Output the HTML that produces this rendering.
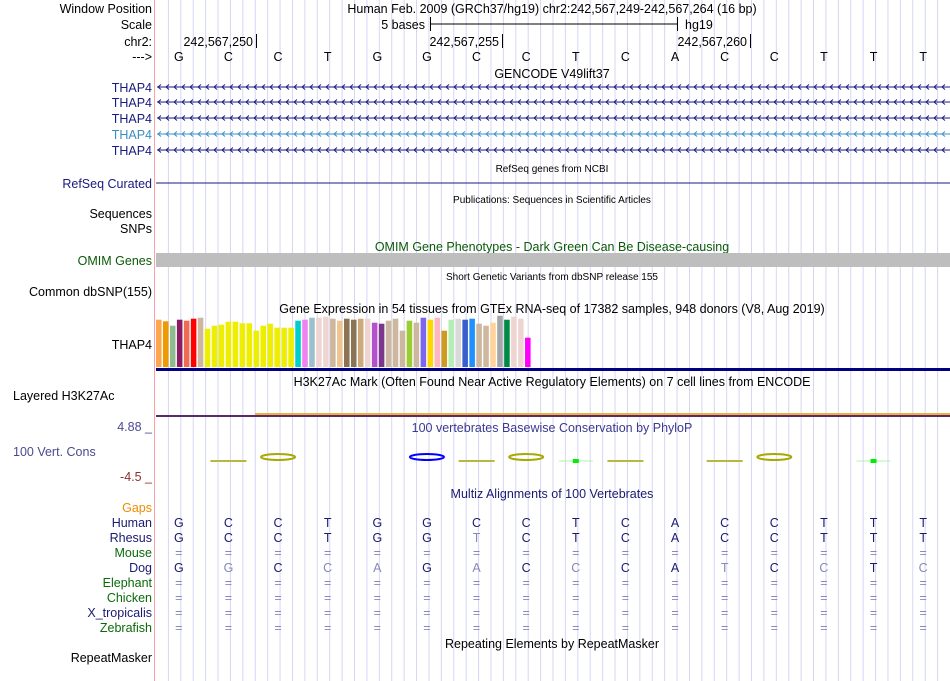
<!DOCTYPE html>
<html><head><meta charset="utf-8"><style>
html,body{margin:0;padding:0;background:#fff;}
svg{display:block;font-family:"Liberation Sans",sans-serif;}
</style></head><body>
<svg id="s" width="950" height="681" viewBox="0 0 950 681" xmlns="http://www.w3.org/2000/svg">
<g id="grid"></g>
<line x1="154.5" y1="0" x2="154.5" y2="681" stroke="#f4a4a4" stroke-width="1"/>
<g font-size="12.5" fill="#000" text-anchor="end">
<text x="152" y="13">Window Position</text>
<text x="152" y="29">Scale</text>
<text x="152" y="46">chr2:</text>
<text x="152" y="61">---&gt;</text>
<text x="152" y="92" fill="#1a1a80">THAP4</text>
<text x="152" y="107" fill="#1a1a80">THAP4</text>
<text x="152" y="123" fill="#1a1a80">THAP4</text>
<text x="152" y="139" fill="#3a8ec6">THAP4</text>
<text x="152" y="155" fill="#1a1a80">THAP4</text>
<text x="152" y="188" fill="#1a1a80">RefSeq Curated</text>
<text x="152" y="218">Sequences</text>
<text x="152" y="233">SNPs</text>
<text x="152" y="265" fill="#0a5a0a">OMIM Genes</text>
<text x="152" y="296">Common dbSNP(155)</text>
<text x="152" y="349">THAP4</text>
<text x="13" y="400" text-anchor="start">Layered H3K27Ac</text>
<text x="152" y="431" fill="#4a4a90">4.88 _</text>
<text x="13" y="456" text-anchor="start" fill="#4a4a90">100 Vert. Cons</text>
<text x="152" y="481" fill="#903030">-4.5 _</text>
<text x="152" y="512" fill="#f08c00">Gaps</text>
<text x="152" y="527" fill="#1a1a70">Human</text>
<text x="152" y="542" fill="#1a1a70">Rhesus</text>
<text x="152" y="557" fill="#0a6a0a">Mouse</text>
<text x="152" y="572" fill="#1a1a70">Dog</text>
<text x="152" y="587" fill="#0a6a0a">Elephant</text>
<text x="152" y="602" fill="#0a6a0a">Chicken</text>
<text x="152" y="617" fill="#1a1a70">X_tropicalis</text>
<text x="152" y="632" fill="#0a6a0a">Zebrafish</text>
<text x="152" y="662">RepeatMasker</text>
</g>
<g font-size="12.5" text-anchor="middle">
<text x="552" y="13">Human Feb. 2009 (GRCh37/hg19)   chr2:242,567,249-242,567,264 (16 bp)</text>
<text x="552" y="78">GENCODE V49lift37</text>
<text x="552" y="251" fill="#0a5a0a">OMIM Gene Phenotypes - Dark Green Can Be Disease-causing</text>
<text x="552" y="313">Gene Expression in 54 tissues from GTEx RNA-seq of 17382 samples, 948 donors (V8, Aug 2019)</text>
<text x="552" y="386">H3K27Ac Mark (Often Found Near Active Regulatory Elements) on 7 cell lines from ENCODE</text>
<text x="552" y="432" fill="#3a3a90">100 vertebrates Basewise Conservation by PhyloP</text>
<text x="552" y="498" fill="#1a1a70">Multiz Alignments of 100 Vertebrates</text>
<text x="552" y="648">Repeating Elements by RepeatMasker</text>
</g>
<g font-size="10" text-anchor="middle">
<text x="552" y="172">RefSeq genes from NCBI</text>
<text x="552" y="203">Publications: Sequences in Scientific Articles</text>
<text x="552" y="280">Short Genetic Variants from dbSNP release 155</text>
</g>
<g>
<text x="425" y="29" font-size="12.5" text-anchor="end">5 bases</text>
<line x1="430" y1="24" x2="677" y2="24" stroke="#000"/>
<line x1="430.5" y1="17" x2="430.5" y2="31" stroke="#000"/>
<line x1="677.5" y1="17" x2="677.5" y2="31" stroke="#000"/>
<text x="685" y="29" font-size="12.5">hg19</text>
</g>
<g font-size="12.5" text-anchor="end">
<text x="253" y="46">242,567,250</text><line x1="256.5" y1="34" x2="256.5" y2="48" stroke="#000"/>
<text x="499" y="46">242,567,255</text><line x1="502.5" y1="34" x2="502.5" y2="48" stroke="#000"/>
<text x="747" y="46">242,567,260</text><line x1="750.5" y1="34" x2="750.5" y2="48" stroke="#000"/>
</g>
<rect x="156" y="253" width="794" height="14" fill="#bebebe"/>
<line x1="156" y1="183" x2="950" y2="183" stroke="#1a1a80"/>
<g id="genes"></g>
<g id="bars"></g>
<rect x="156" y="368" width="794" height="3" fill="#000080"/>
<rect x="255" y="413" width="695" height="2" fill="#f0b040"/>
<rect x="156" y="415" width="794" height="2" fill="#5a2a6a"/>
<g id="cons"></g>
<g id="seq" font-size="12.5" text-anchor="middle"></g>
</svg>
<script>
const bases = ["G","C","C","T","G","G","C","C","T","C","A","C","C","T","T","T"];
const rhesus = ["G","C","C","T","G","G","t","C","T","C","A","C","C","T","T","T"];
const dog = ["G","g","C","c","a","G","a","C","c","C","A","t","C","c","T","c"];
const gtexValues = [47.3,45.7,41.3,47.3,46.3,48.3,49.3,38.3,41.3,42.3,45.3,45.3,43.7,43.7,36.3,41.3,43.3,39.3,39.3,39.3,46.3,47.3,49.3,49.3,50.3,48.3,46.3,48.3,47.3,48.3,48.3,44.3,43.3,46.3,48.3,36.3,46.3,44.3,49.3,47.3,49.3,36.3,47.3,48.3,47.3,48.3,43.3,41.3,44.3,51.3,47.3,50.3,48.3,29.3];
const gtexColors = ["#FFA54F","#EE9A00","#8FBC8F","#8B1C62","#EE6A50","#FF0000","#CDB79E","#EEEE00","#EEEE00","#EEEE00","#EEEE00","#EEEE00","#EEEE00","#EEEE00","#EEEE00","#EEEE00","#EEEE00","#EEEE00","#EEEE00","#EEEE00","#00CDCD","#EE82EE","#9AC0CD","#EED5D2","#EED5D2","#CDB79E","#EEC591","#8B7355","#8B7355","#CDAA7D","#EED5D2","#B452CD","#7A378B","#CDB79E","#CDB79E","#CDB79E","#9ACD32","#CDB79E","#7A67EE","#FFD700","#FFB6C1","#CD9B1D","#B4EEB4","#D9D9D9","#3A5FCD","#1E90FF","#CDB79E","#CDB79E","#FFD39B","#A6A6A6","#008B45","#EED5D2","#EED5D2","#FF00FF"];
const consBase = [1,2,5,6,7,8,9,11,12,14];
const consType = ["flat","ring","ring","flat","ring","dot","flat","flat","ring","dot"];
const consColor = ["#b8b840","#a8a800","#0000ff","#b8b840","#a8a800","#00ee00","#b8b840","#b8b840","#a8a800","#00ee00"];

const NS="http://www.w3.org/2000/svg";
const X0=156, W=794, bw=W/bases.length;
function xBase(i){return X0+bw*i+bw/2-2;}
function mk(t,a,p){const e=document.createElementNS(NS,t);for(const k in a)e.setAttribute(k,a[k]);p.appendChild(e);return e;}
const grid=document.getElementById('grid');
for(let k=1;k<64;k++){const x=X0+k*W/64;
 const l=mk('line',{x1:x,y1:0,x2:x,y2:681,stroke:'#d6d6f4','stroke-width':1},grid);
 
 }
const genes=document.getElementById('genes');
const gy=[87,102,118,134,150], gc=["#1a1a80","#1a1a80","#1a1a80","#3a8ec6","#1a1a80"];
gy.forEach((y,j)=>{const g=mk('g',{stroke:gc[j],fill:'none','stroke-width':1},genes);
 
 
 mk('line',{x1:157,y1:y,x2:950,y2:y},g);
 let d='';for(let x=158;x<950;x+=8){d+=`M${x+3},${y-2.5}L${x},${y}L${x+3},${y+2.5}`;}
 mk('path',{d:d},g);});
const bars=document.getElementById('bars');
const bottom=367, pitch=(532-156)/gtexValues.length;
gtexValues.forEach((v,i)=>{const r=mk('rect',{x:156+i*pitch,y:bottom-v,width:pitch-1.4,height:v,fill:gtexColors[i]},bars);
 
 });
const cons=document.getElementById('cons');
consBase.forEach((b,j)=>{const cx=xBase(b);let e;
 if(consType[j]==='ring'){e=mk('ellipse',{cx:cx,cy:457,rx:17,ry:3,fill:'none',stroke:consColor[j],'stroke-width':2},cons);}
 else if(consType[j]==='dot'){e=mk('g',{},cons);mk('line',{x1:cx-17,y1:461,x2:cx+17,y2:461,stroke:'#b0f0b0'},e);mk('rect',{x:cx-3,y:459,width:6,height:4,fill:consColor[j]},e);}
 else{e=mk('rect',{x:cx-18,y:460,width:36,height:2,fill:consColor[j]},cons);}
 
 });
const seq=document.getElementById('seq');
function row(arr,y,col,name){arr.forEach((b,i)=>{const up=b===b.toUpperCase()&&b!=='=';
 const t=mk('text',{x:xBase(i),y:y,fill:up?col:'#8888bb'},seq);t.textContent=b.toUpperCase();
 
 });}
row(bases,61,'#000','reference-base');
row(bases,527,'#1a1a70','human-base');
row(rhesus,542,'#1a1a70','rhesus-base');
row(dog,572,'#1a1a70','dog-base');
const eqRows=[557,587,602,617,632];
eqRows.forEach(y=>row(bases.map(()=>'='),y,'#8888bb','gap-base'));
</script>
</body></html>
